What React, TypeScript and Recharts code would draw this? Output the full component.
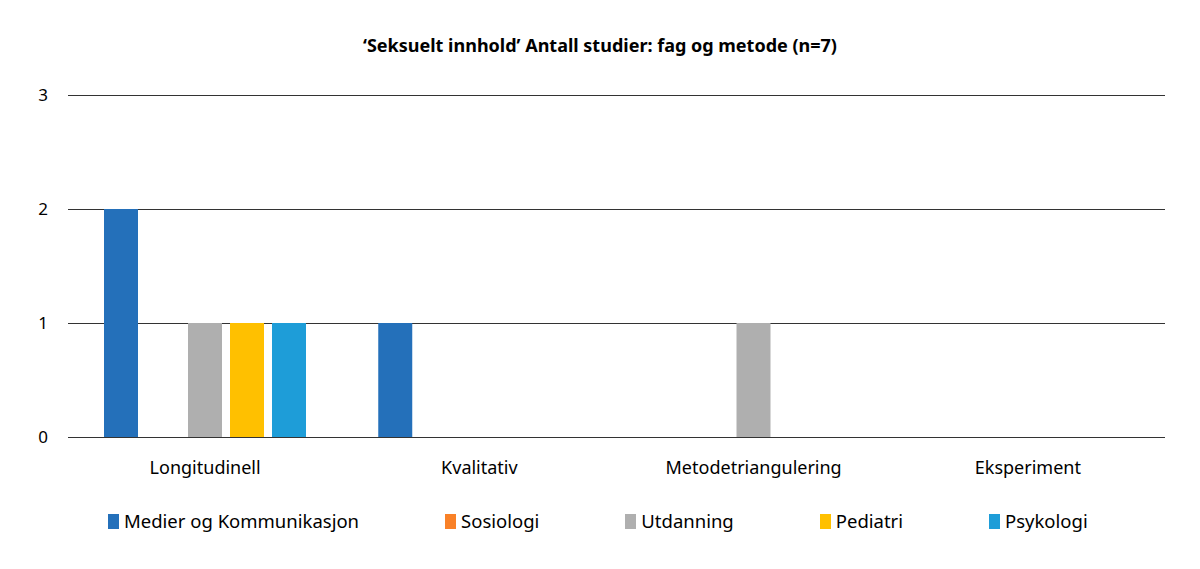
import React from 'react';
import { BarChart, Bar, XAxis, YAxis, CartesianGrid, Legend } from 'recharts';

const categories = ['Longitudinell', 'Kvalitativ', 'Metodetriangulering', 'Eksperiment'];
const seriesNames = ['Medier og Kommunikasjon', 'Sosiologi', 'Utdanning', 'Pediatri', 'Psykologi'];
const medier = [2, 1, 0, 0];
const sosiologi = [0, 0, 0, 0];
const utdanning = [1, 0, 1, 0];
const pediatri = [1, 0, 0, 0];
const psykologi = [1, 0, 0, 0];
const yTicks = [0, 1, 2, 3];
const colors = ['#2470ba', '#f98128', '#afafaf', '#ffc000', '#1e9dd8'];
const title = '\u2018Seksuelt innhold\u2019 Antall studier: fag og metode (n=7)';

const keys = ['s0', 's1', 's2', 's3', 's4'];
const seriesValues = [medier, sosiologi, utdanning, pediatri, psykologi];
const data = categories.map((c, i) => {
  const row: Record<string, any> = { name: c };
  keys.forEach((k, j) => { row[k] = seriesValues[j][i]; });
  return row;
});

const FONT = "'Noto Sans', sans-serif";

const LegendContent = () => (
  <div style={{ display: 'flex', gap: 86, paddingLeft: 108, fontFamily: FONT, fontSize: 18.5, color: '#000', lineHeight: '24px' }}>
    {seriesNames.map((n, i) => (
      <div key={n} style={{ display: 'flex', alignItems: 'center' }}>
        <span style={{ display: 'inline-block', width: 11, height: 15, background: colors[i], marginRight: 5 }} />
        <span>{n}</span>
      </div>
    ))}
  </div>
);

export default function App() {
  return (
    <div style={{ position: 'fixed', left: 0, top: 0, width: 1200, height: 569, background: '#fff' }}>
      <div style={{ position: 'absolute', top: 32, left: 0, width: 1200, textAlign: 'center', fontFamily: FONT, fontWeight: 700, fontSize: 18, color: '#000', lineHeight: '26px' }}>
        {title}
      </div>
      <BarChart width={1200} height={569} data={data} margin={{ top: 95, right: 35, left: 0, bottom: 36 }} barSize={34} barGap={8}>
        <CartesianGrid vertical={false} stroke="#333333" strokeWidth={1} shapeRendering="crispEdges" />
        <XAxis dataKey="name" axisLine={false} tickLine={false} height={72} tickMargin={18} tick={{ fill: '#000', fontSize: 18, fontFamily: FONT }} interval={0} />
        <YAxis width={68} domain={[0, 3]} ticks={yTicks} axisLine={false} tickLine={false} tickMargin={14} tick={{ fill: '#000', fontSize: 17, fontFamily: FONT }} />
        <Legend verticalAlign="bottom" align="left" content={<LegendContent />} wrapperStyle={{ left: 0, bottom: 36, width: 1200 }} />
        {keys.map((k, i) => (
          <Bar key={k} dataKey={k} name={seriesNames[i]} fill={colors[i]} isAnimationActive={false} />
        ))}
      </BarChart>
    </div>
  );
}
